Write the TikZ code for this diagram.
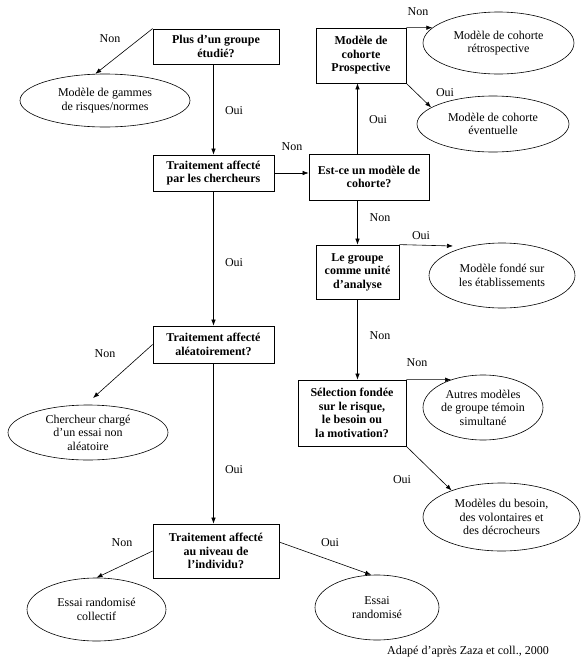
\documentclass[tikz,border=0pt]{standalone}
\usepackage{fontspec}
\setmainfont{Liberation Serif}
\usetikzlibrary{shapes.geometric,arrows.meta}
\begin{document}
\begin{tikzpicture}[x=1pt, y=-1pt, >={Latex[length=6pt,width=4.5pt]}]
        \tikzstyle{every node}=[font=\fontsize{12}{13.5}\selectfont, align=center]
        \tikzstyle{boite}=[draw, rectangle, line width=0.8pt, inner sep=1pt, font=\fontsize{12}{13.5}\selectfont\bfseries]
        \tikzstyle{bulle}=[draw, ellipse, line width=0.6pt, inner sep=0pt]
        \tikzstyle{fleche}=[->, line width=0.6pt]
        \useasboundingbox (0,0) rectangle (588,670);
        % questions
        \node[boite, minimum width=126, minimum height=35] (groupe) at (216,46.5) {Plus d’un groupe\\étudié?};
        \node[boite, minimum width=121, minimum height=36] (chercheurs) at (213.5,173) {Traitement affecté\\par les chercheurs};
        \node[boite, minimum width=120, minimum height=46] (cohorte) at (369,177) {Est-ce un modèle de\\cohorte?};
        \node[boite, minimum width=90, minimum height=55] (prospective) at (361,55.5) {Modèle de\\cohorte\\Prospective};
        \node[boite, minimum width=83, minimum height=54] (unite) at (357.5,272) {Le groupe\\comme unité\\d’analyse};
        \node[boite, minimum width=108, minimum height=66] (selection) at (352,413) {Sélection fondée\\sur le risque,\\le besoin ou\\la motivation?};
        \node[boite, minimum width=121, minimum height=37] (aleatoire) at (213.5,344.5) {Traitement affecté\\aléatoirement?};
        \node[boite, minimum width=126, minimum height=54] (individu) at (216,551) {Traitement affecté\\au niveau de\\l’individu?};
        % modeles
        \node[bulle, minimum width=170, minimum height=53] (gammes) at (105,100.5) {Modèle de gammes\\de risques/normes};
        \node[bulle, minimum width=151, minimum height=62] (retro) at (498.5,43) {Modèle de cohorte\\rétrospective};
        \node[bulle, minimum width=152, minimum height=56] (eventuelle) at (493,124) {Modèle de cohorte\\éventuelle};
        \node[bulle, minimum width=146, minimum height=65] (etablis) at (502,275.5) {Modèle fondé sur\\les établissements};
        \node[bulle, minimum width=120, minimum height=65] (autres) at (483,407.5) {Autres modèles\\de groupe témoin\\simultané};
        \node[bulle, minimum width=157, minimum height=68] (besoin) at (501.5,517) {Modèles du besoin,\\des volontaires et\\des décrocheurs};
        \node[bulle, minimum width=160, minimum height=55] (chercheur) at (88,432.5) {Chercheur chargé\\d’un essai non\\aléatoire};
        \node[bulle, minimum width=139, minimum height=63] (collectif) at (96.5,609.5) {Essai randomisé\\collectif};
        \node[bulle, minimum width=124, minimum height=65] (randomise) at (377,607.5) {Essai\\randomisé};
        \node (source) at (468,652) {Adapé d’après Zaza et coll., 2000};
        \coordinate (etablisin) at (453,246);
        % fleches
        \draw[fleche] (groupe.north west) -- (gammes.110);
        \draw[fleche] (groupe.south -| chercheurs.north) -- (chercheurs.north);
        \draw[fleche] (chercheurs.east) -- (chercheurs.east -| cohorte.west);
        \draw[fleche] (cohorte.north -| unite.north) -- (prospective.south -| unite.north);
        \draw[fleche] (prospective.north east) -- (retro.167);
        \draw[fleche] (prospective.south east) -- (eventuelle.165);
        \draw[fleche] (cohorte.south -| unite.north) -- (unite.north);
        \draw[fleche] (unite.north east) -- (etablisin);
        \draw[fleche] (unite.south) -- (unite.south |- selection.north);
        \draw[fleche] (selection.north east) -- (autres.139);
        \draw[fleche] (selection.south east) -- (besoin.152);
        \draw[fleche] (chercheurs.south) -- (aleatoire.north);
        \draw[fleche, shorten >=10pt] (aleatoire.west) -- (chercheur.95);
        \draw[fleche] (aleatoire.south) -- (aleatoire.south |- individu.north);
        \draw[fleche] (individu.west) -- (collectif.north);
        \draw[fleche] (individu.8) -- (randomise.100);
        % Oui / Non
        \node (non1) at (110,39) {Non};
        \node (oui1) at (234,111) {Oui};
        \node (non2) at (292,147) {Non};
        \node (oui2) at (378,120) {Oui};
        \node (non3) at (418,12) {Non};
        \node (oui3) at (445,93) {Oui};
        \node (non4) at (380,218) {Non};
        \node (oui4) at (421,236) {Oui};
        \node (non5) at (380,336) {Non};
        \node (non6) at (417,363) {Non};
        \node (oui5) at (402,480) {Oui};
        \node (oui6) at (234,263) {Oui};
        \node (non7) at (105,354) {Non};
        \node (oui7) at (234,470) {Oui};
        \node (non8) at (122,543) {Non};
        \node (oui8) at (330,543) {Oui};
    \end{tikzpicture}
\end{document}
